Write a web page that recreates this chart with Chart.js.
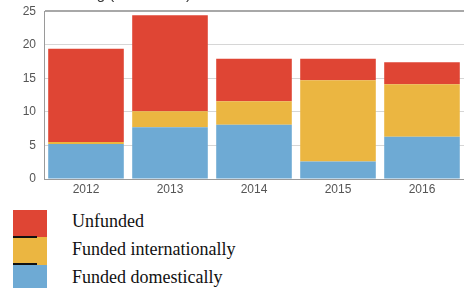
<!DOCTYPE html>
<html>
<head>
<meta charset="utf-8">
<script src="https://cdn.jsdelivr.net/npm/chart.js@4.4.0/dist/chart.umd.min.js"></script>
<style>
  body { margin: 0; background: #fff; width: 464px; height: 288px; overflow: hidden; position: relative; }
  #wrap { position: absolute; left: 0; top: -4px; width: 464px; height: 204px; }
  #title { position: absolute; left: 40px; top: -15px; font: 15px Arial, "Liberation Sans", sans-serif; color: #333; }
  .sw { position: absolute; left: 13px; width: 34px; }
  .tick { position: absolute; left: 13px; width: 24px; height: 2px; background: #111; }
  .lab { position: absolute; left: 72px; font: 18px/22px "Liberation Serif", "Times New Roman", serif; color: #111; white-space: nowrap; }
</style>
</head>
<body>
<div id="wrap"><canvas id="chart"></canvas></div>
<div id="title">Financing (US$ billion)</div>

<div class="sw" style="top:210px;height:27px;background:#df4534"></div>
<div class="sw" style="top:237px;height:28px;background:#ebb641"></div>
<div class="sw" style="top:265px;height:23px;background:#6eaad4"></div>
<div class="tick" style="top:236px"></div>
<div class="tick" style="top:263px"></div>
<div class="lab" style="top:210px">Unfunded</div>
<div class="lab" style="top:238px">Funded internationally</div>
<div class="lab" style="top:266px">Funded domestically</div>

<script>
const years = ['2012', '2013', '2014', '2015', '2016'];
const domestic = [5.2, 7.7, 8.1, 2.6, 6.3];
const international = [0.3, 2.4, 3.5, 12.1, 7.8];
const unfunded = [13.9, 14.3, 6.3, 3.2, 3.3];
const yTicks = [0, 5, 10, 15, 20, 25];

const ctx = document.getElementById('chart');

new Chart(ctx, {
  type: 'bar',
  data: {
    labels: years,
    datasets: [
      { label: 'Funded domestically', data: domestic, backgroundColor: '#6eaad4' },
      { label: 'Funded internationally', data: international, backgroundColor: '#ebb641' },
      { label: 'Unfunded', data: unfunded, backgroundColor: '#df4534' }
    ]
  },
  options: {
    responsive: true,
    maintainAspectRatio: false,
    animation: false,
    layout: { padding: 0 },
    datasets: { bar: { barPercentage: 0.9, categoryPercentage: 1.0 } },
    plugins: { legend: { display: false }, tooltip: { enabled: false } },
    scales: {
      x: {
        stacked: true,
        grid: { display: false, drawTicks: false },
        border: { color: '#9a9a9a', width: 1 },
        ticks: { color: '#555', font: { family: 'Arial', size: 12 }, padding: 3 },
        afterFit(axis) { axis.height = 21; }
      },
      y: {
        stacked: true,
        min: 0,
        max: 25,
        afterBuildTicks(axis) { axis.ticks = yTicks.map(v => ({ value: v })); },
        grid: {
          color: c => c.tick && c.tick.value === 25 ? '#a8a8a8' : '#d6d6d6',
          lineWidth: c => c.tick && c.tick.value === 25 ? 2 : 1,
          drawTicks: false
        },
        border: { color: '#9a9a9a', width: 1 },
        ticks: { color: '#555', font: { family: 'Arial', size: 12 }, padding: 8 },
        afterFit(axis) { axis.width = 44; }
      }
    }
  }
});
</script>
</body>
</html>
